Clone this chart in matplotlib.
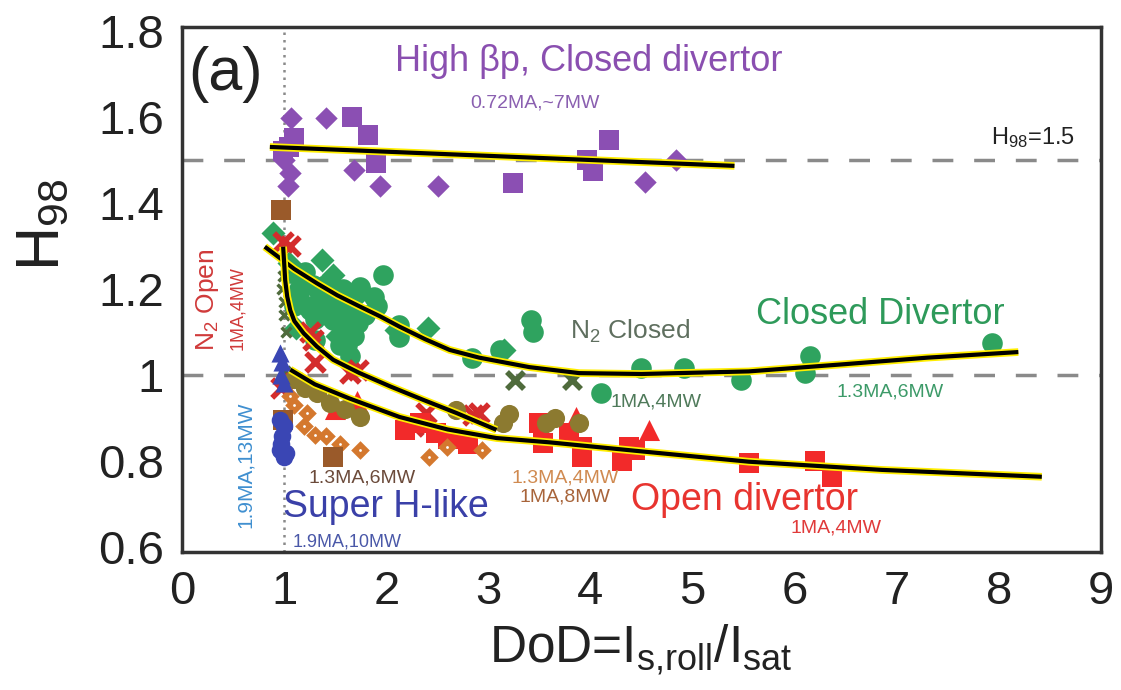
import matplotlib
matplotlib.use("Agg")
import matplotlib.pyplot as plt
import matplotlib.patheffects as pe

plt.rcParams['font.family'] = ['Liberation Sans', 'DejaVu Sans']
plt.rcParams['mathtext.fontset'] = 'custom'
plt.rcParams['mathtext.rm'] = 'Liberation Sans'
plt.rcParams['mathtext.it'] = 'Liberation Sans'
plt.rcParams['mathtext.default'] = 'regular'

# High beta_p, closed divertor (0.72MA, ~7MW)
hbp_dia_x = [1.07, 1.41, 1.68, 1.94, 1.04, 2.51, 4.53, 4.84, 1.00, 1.06]
hbp_dia_y = [1.597, 1.597, 1.477, 1.44, 1.44, 1.44, 1.449, 1.50, 1.50, 1.47]
hbp_sq_x = [1.66, 1.82, 1.10, 0.99, 1.90, 3.24, 4.18, 3.97, 4.02, 1.05]
hbp_sq_y = [1.60, 1.558, 1.55, 1.52, 1.492, 1.446, 1.547, 1.50, 1.473, 1.53]

# Closed divertor
cd_circ_x = [1.97, 1.74, 1.54, 1.91, 1.79, 2.12, 2.12, 1.48, 1.64, 1.64, 1.41, 1.25, 1.15,
             1.06, 1.30, 1.55, 1.74, 1.15, 1.22, 1.28, 1.35, 1.42, 1.50, 1.58, 1.66,
             1.72, 1.55, 1.62, 1.68, 1.30, 1.40, 1.20, 1.10, 1.88, 1.58,
             3.42, 3.44, 3.11, 2.84, 4.10, 4.49, 4.92, 5.47, 6.15, 6.10, 7.93]
cd_circ_y = [1.233, 1.205, 1.198, 1.159, 1.14, 1.116, 1.089, 1.128, 1.105, 1.043, 1.167, 1.15, 1.19,
             1.237, 1.08, 1.07, 1.20, 1.20, 1.16, 1.21, 1.18, 1.14, 1.17, 1.13, 1.15,
             1.12, 1.09, 1.07, 1.09, 1.13, 1.21, 1.24, 1.16, 1.18, 1.20,
             1.128, 1.10, 1.058, 1.039, 0.957, 1.015, 1.015, 0.988, 1.043, 1.004, 1.074]
cd_dia_x = [0.89, 1.37, 1.48, 2.41, 3.15, 1.05, 1.20, 1.60, 1.70, 1.30, 2.10, 1.52, 1.12]
cd_dia_y = [1.33, 1.267, 1.233, 1.108, 1.058, 1.26, 1.22, 1.15, 1.18, 1.20, 1.105, 1.09, 1.11]

# N2 closed
n2c_x = [3.26, 3.82]
n2c_y = [0.988, 0.988]
n2c_small_x = [1.00, 1.00, 0.98, 1.02, 1.00, 0.99, 1.01]
n2c_small_y = [1.17, 1.14, 1.20, 1.10, 0.98, 1.23, 1.01]

# N2 open (1MA, 4MW)
n2o_x = [0.99, 1.06, 1.25, 1.28, 1.64, 1.72, 2.85, 1.10, 0.97, 2.39, 2.91, 2.26, 1.30]
n2o_y = [1.31, 1.30, 1.10, 1.081, 1.005, 1.012, 0.907, 0.98, 0.97, 0.911, 0.911, 0.88, 1.03]

# Open divertor (1MA, 4MW)
od_sq_x = [2.18, 2.33, 2.49, 3.50, 3.53, 3.79, 3.92, 3.92, 4.31, 4.38, 4.44, 5.55,
           6.20, 6.37, 2.60, 2.80]
od_sq_y = [0.872, 0.887, 0.864, 0.887, 0.842, 0.865, 0.81, 0.833, 0.80, 0.833, 0.826, 0.795,
           0.80, 0.763, 0.85, 0.84]
od_tri_x = [1.71, 3.86, 4.57, 1.50]
od_tri_y = [0.94, 0.903, 0.872, 0.92]

# 1.3MA, 4MW
olive_x = [2.68, 3.14, 3.56, 3.89, 1.74, 1.45, 1.32, 1.20, 1.10, 1.60, 3.20, 3.65]
olive_y = [0.919, 0.888, 0.888, 0.888, 0.903, 0.934, 0.957, 0.97, 0.99, 0.92, 0.91, 0.90]

# 1MA, 8MW
orange_x = [1.22, 1.41, 1.74, 2.42, 2.59, 2.94, 1.06, 1.19, 1.30, 1.55, 1.10]
orange_y = [0.911, 0.857, 0.826, 0.81, 0.833, 0.826, 0.95, 0.88, 0.86, 0.84, 0.93]

# 1.3MA, 6MW
brown_x = [0.97, 1.48, 0.99]
brown_y = [1.384, 0.81, 0.895]

# Super H-like (1.9MA)
sh_tri_x = [0.96, 0.98, 0.97, 1.00]
sh_tri_y = [1.05, 1.03, 1.00, 0.98]
sh_circ_x = [0.96, 0.98, 0.96, 1.02, 0.97, 1.00, 1.00]
sh_circ_y = [0.895, 0.857, 0.826, 0.818, 0.84, 0.81, 0.88]

# trend lines
fit_hbp_x = [0.86, 5.41]
fit_hbp_y = [1.53, 1.486]
fit_closed_x = [0.81, 0.95, 1.10, 1.32, 1.52, 1.74, 1.94, 2.13, 2.38, 2.62, 2.91, 3.40,
                3.89, 4.50, 5.55, 6.50, 7.30, 8.19]
fit_closed_y = [1.298, 1.273, 1.246, 1.213, 1.185, 1.159, 1.136, 1.112, 1.083, 1.058, 1.040, 1.018,
                1.004, 1.002, 1.008, 1.025, 1.040, 1.053]
fit_steep_x = [0.99, 1.00, 1.01, 1.03, 1.06, 1.10, 1.19, 1.32, 1.48, 1.74, 2.04, 2.36, 2.69, 3.08]
fit_steep_y = [1.298, 1.26, 1.22, 1.182, 1.150, 1.125, 1.097, 1.066, 1.035, 1.004, 0.973, 0.942, 0.911, 0.872]
fit_open_x = [1.06, 1.30, 1.64, 2.13, 2.60, 3.08, 3.60, 4.50, 5.55, 6.85, 8.42]
fit_open_y = [1.012, 0.978, 0.945, 0.902, 0.873, 0.853, 0.843, 0.822, 0.798, 0.779, 0.763]

fig = plt.figure(figsize=(11.21, 6.90), dpi=100)
ax = fig.add_axes([0.1624, 0.2, 0.8198, 0.7609])

ax.axhline(1.5, color='#8a8a8a', lw=2.5, ls=(0, (6, 6)), zorder=1)
ax.axhline(1.0, color='#8a8a8a', lw=2.5, ls=(0, (6, 6)), zorder=1)
ax.axvline(1.0, color='#8a8a8a', lw=1.8, ls=(0, (1, 2)), zorder=1)

ax.scatter(hbp_dia_x, hbp_dia_y, marker='D', s=130, color='#8b4fb3', lw=0, zorder=3)
ax.scatter(hbp_sq_x, hbp_sq_y, marker='s', s=220, color='#8b4fb3', lw=0, zorder=3)

ax.scatter(cd_circ_x, cd_circ_y, marker='o', s=220, color='#2fa35f', lw=0, zorder=3)
ax.scatter(cd_dia_x, cd_dia_y, marker='D', s=150, color='#2fa35f', lw=0, zorder=3)
ax.scatter(n2c_x, n2c_y, marker='x', s=150, color='#4f6b3c', linewidths=4, zorder=3)
ax.scatter(n2c_small_x, n2c_small_y, marker='x', s=50, color='#4f6b3c', linewidths=2.5, zorder=3)

ax.scatter(n2o_x, n2o_y, marker='x', s=180, color='#d42c2c', linewidths=4, zorder=3)
ax.scatter(od_sq_x, od_sq_y, marker='s', s=190, color='#f22a2a', lw=0, zorder=3)
ax.scatter(od_tri_x, od_tri_y, marker='^', s=230, color='#f22a2a', lw=0, zorder=3)

ax.scatter(olive_x, olive_y, marker='o', s=190, color='#8c7a30', lw=0, zorder=3)
ax.scatter(orange_x, orange_y, marker='D', s=90, color='#d4782e', lw=0, zorder=3)
ax.scatter(orange_x, orange_y, marker='o', s=4, color='white', lw=0, zorder=3)
ax.scatter(brown_x, brown_y, marker='s', s=200, color='#9a5a2a', lw=0, zorder=3)

ax.scatter(sh_tri_x, sh_tri_y, marker='^', s=170, color='#3a46b4', lw=0, zorder=3)
ax.scatter(sh_circ_x, sh_circ_y, marker='o', s=160, color='#3a46b4', lw=0, zorder=3)

outline = [pe.Stroke(linewidth=5.5, foreground='#ffee00'), pe.Normal()]
for fx, fy in [(fit_hbp_x, fit_hbp_y), (fit_closed_x, fit_closed_y),
               (fit_steep_x, fit_steep_y), (fit_open_x, fit_open_y)]:
    ax.plot(fx, fy, color='black', lw=3, solid_capstyle='butt', solid_joinstyle='round',
            path_effects=outline, zorder=5)

ax.set_xlim(0, 9)
ax.set_ylim(0.588, 1.809)
ax.set_xticks(range(10))
ax.set_yticks([0.6, 0.8, 1.0, 1.2, 1.4, 1.6, 1.8])
ax.set_yticklabels(['0.6', '0.8', '1', '1.2', '1.4', '1.6', '1.8'])
ax.tick_params(length=0, labelsize=34, colors='#222222', pad=13)
for sp in ax.spines.values():
    sp.set_linewidth(2.5)
    sp.set_color('#333333')

fig.text(0.572, 0.058, 'DoD=I$_{s{,}roll}$/I$_{sat}$', fontsize=37, color='#222222', ha='center', va='center')
fig.text(0.038, 0.674, 'H$_{98}$', fontsize=44, color='#222222', rotation=90, ha='center', va='center')

ax.text(0.047, 0.909, '(a)', transform=ax.transAxes, fontsize=44, color='#222222', ha='center', va='center')
ax.text(3.98, 1.728, 'High βp, Closed divertor', fontsize=26, color='#8a4fb0', ha='center', va='center')
ax.text(3.46, 1.633, '0.72MA,~7MW', fontsize=14, color='#8a5fb0', ha='center', va='center')
ax.text(8.33, 1.551, 'H$_{98}$=1.5', fontsize=17, color='#222222', ha='center', va='center')
ax.text(6.84, 1.14, 'Closed Divertor', fontsize=26, color='#2e9a5a', ha='center', va='center')
ax.text(4.39, 1.10, 'N$_2$ Closed', fontsize=19, color='#5f6f5f', ha='center', va='center')
ax.text(4.64, 0.937, '1MA,4MW', fontsize=14, color='#4f7a5a', ha='center', va='center')
ax.text(6.93, 0.96, '1.3MA,6MW', fontsize=14, color='#3c9a68', ha='center', va='center')
ax.text(5.51, 0.709, 'Open divertor', fontsize=27, color='#e8342f', ha='center', va='center')
ax.text(6.40, 0.644, '1MA,4MW', fontsize=14, color='#e03a3a', ha='center', va='center')
ax.text(3.75, 0.76, '1.3MA,4MW', fontsize=14, color='#d08a50', ha='center', va='center')
ax.text(3.75, 0.716, '1MA,8MW', fontsize=14, color='#a8643a', ha='center', va='center')
ax.text(1.76, 0.76, '1.3MA,6MW', fontsize=14, color='#6b4a3a', ha='center', va='center')
ax.text(2.00, 0.693, 'Super H-like', fontsize=27, color='#3a40a8', ha='center', va='center')
ax.text(1.62, 0.612, '1.9MA,10MW', fontsize=13, color='#4a58a8', ha='center', va='center')
ax.text(0.62, 0.79, '1.9MA,13MW', fontsize=15, color='#3f8fd0', rotation=90, ha='center', va='center')
ax.text(0.25, 1.174, 'N$_2$ Open', fontsize=19, color='#d03a3a', rotation=90, ha='center', va='center')
ax.text(0.54, 1.156, '1MA,4MW', fontsize=13, color='#d03a3a', rotation=90, ha='center', va='center')

fig.savefig('out.png', dpi=100)
